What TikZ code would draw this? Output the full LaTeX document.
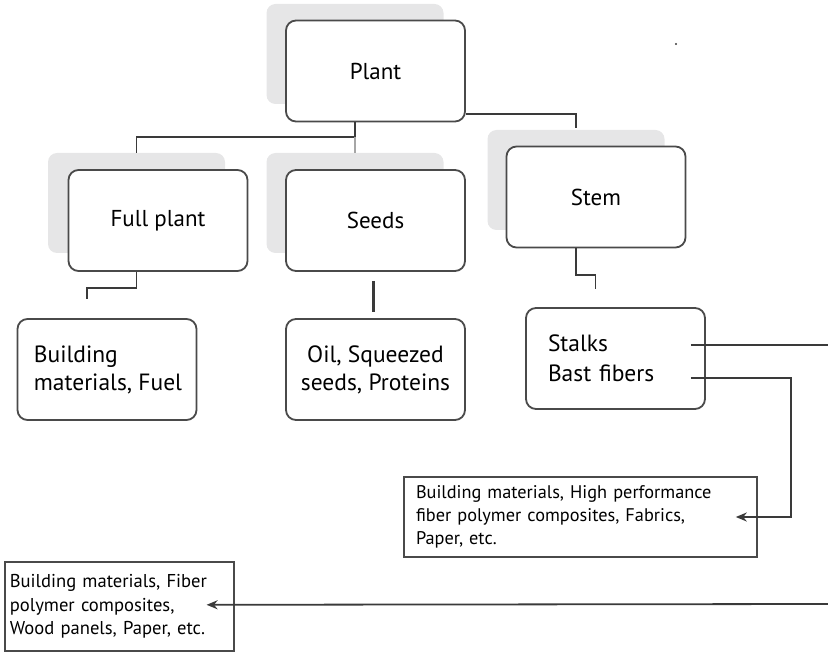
\documentclass[tikz,border=0pt]{standalone}
\usepackage{fontspec}
\setmainfont{PT Sans}
\usetikzlibrary{calc,arrows.meta}
\definecolor{shade}{HTML}{E6E6E7}
\definecolor{edge}{HTML}{4A4A4A}
\definecolor{wire}{HTML}{3A3A3A}
\tikzset{
  shadowbox/.style={fill=shade,draw=none,rounded corners=9pt,minimum width=177pt,minimum height=100pt,inner sep=0pt},
  topbox/.style={draw=edge,line width=1.8pt,fill=white,rounded corners=10pt,minimum width=179pt,minimum height=101pt,inner sep=0pt,font=\fontsize{23}{26}\selectfont},
  midbox/.style={draw=edge,line width=1.8pt,fill=white,rounded corners=10pt,minimum width=179pt,minimum height=101pt,font=\fontsize{23.5}{28}\selectfont},
  flatbox/.style={draw=edge,line width=1.6pt,fill=white,align=left},
  conn/.style={draw=wire,line width=1.8pt},
  thinconn/.style={draw=wire!45,line width=1.5pt},
  arr/.style={conn,-{Stealth[length=11pt,width=9pt]}}
}
\begin{document}
\begin{tikzpicture}[x=1pt,y=-1pt]
\useasboundingbox (0,0) rectangle (828,652);
% shadows
\node[shadowbox] (plantsh) at (355,54) {};
\node[shadowbox] (fullsh) at (136.5,203) {};
\node[shadowbox] (seedsh) at (355,203) {};
\node[shadowbox] (stemsh) at (576,180) {};
% main boxes
\node[topbox] (plant) at (375.5,71) {Plant};
\node[topbox] (full) at (158,220.5) {Full plant};
\node[topbox] (seeds) at (375.5,220.5) {Seeds};
\node[topbox] (stem) at (596,197) {Stem};
% second row
\node[midbox,align=left,inner xsep=0pt] (bmf) at (107,369.5) {\hspace*{2pt}Building\\\hspace*{2pt}materials, Fuel};
\node[midbox,align=center,inner xsep=0pt] (oil) at (375.5,369.5) {Oil, Squeezed\\seeds, Proteins};
\node[midbox,text width=135pt,align=left,inner xsep=22pt] (stalks) at (615.5,358.5) {\raisebox{1.5pt}{Stalks}\\Bast fibers};
% bottom boxes
\node[flatbox,font=\fontsize{18.3}{23}\selectfont,minimum width=353pt,minimum height=80pt,text width=329pt,inner xsep=12pt] (hp) at (580.5,517) {Building materials, High performance\\fiber polymer composites, Fabrics,\\Paper, etc.};
\node[flatbox,font=\fontsize{18.6}{23.5}\selectfont,minimum width=229pt,minimum height=89pt,text width=219pt,inner xsep=5pt,anchor=north west,inner ysep=5pt] (bl) at (4,561) {Building materials, Fiber\\polymer composites,\\Wood panels, Paper, etc.};
% stray dot
\fill[wire] (676,44) circle (1.2pt);
% connectors from Plant
\draw[conn] (plant.south -| plantsh.south) -- ++(0,15) -| (fullsh.north);
\draw[thinconn] ($(plant.south -| plantsh.south)+(0,15)$) -- (seedsh.north);
\draw[conn] ($(plant.south east)+(0,-8)$) -| ($(stemsh.north)+(0,-2)$);
% down connectors
\draw[conn] (full.south -| fullsh.south) -- ++(0,16) -| ($(bmf.north)+(-20,-19)$);
\draw[wire,line width=2.8pt] ($(seeds.south)+(-2,9)$) -- ($(oil.north)+(-2,-6)$);
\draw[conn] (stem.south -| stemsh.south) -- ++(0,27) -| ($(stalks.north)+(-20,-18)$);
% from stalks
\coordinate (r1) at (828,345);
\coordinate (r2) at (828,604);
\draw[conn] ($(stalks.east)+(-15,-13.5)$) -- (r1);
\draw[arr] ($(stalks.east)+(-15,19.5)$) -- ++(100,0) |- ($(hp.east)+(-22,0)$);
\draw[arr] (r2) -- ($(bl.east)+(-28,-1.5)$);
\end{tikzpicture}
\end{document}
